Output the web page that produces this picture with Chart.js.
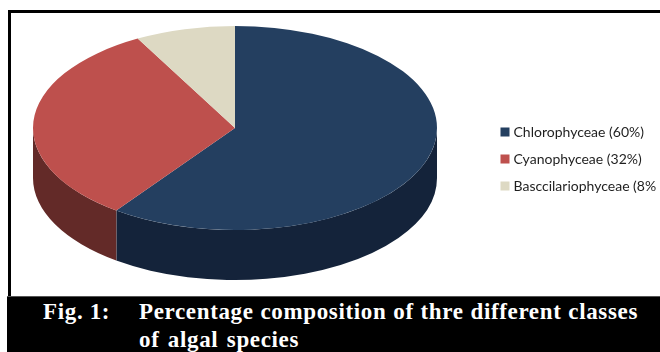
<!DOCTYPE html>
<html>
<head>
<meta charset="utf-8">
<script src="https://cdn.jsdelivr.net/npm/chart.js@4"></script>
<style>
  html, body { margin: 0; padding: 0; background: #fff; }
  #page { position: relative; width: 660px; height: 352px; overflow: hidden; }
  #frame { position: absolute; left: 8px; top: 10px; width: 660px; height: 290px; border: 3px solid #000; box-sizing: border-box; }
  canvas { position: absolute; left: 0; top: 0; }
  #caption { position: absolute; left: 7px; top: 296px; width: 653px; height: 56px; background: #000; color: #fff;
             border-top: 1px solid #555; box-sizing: border-box;
             font: bold 23px/28px "Liberation Serif", serif; letter-spacing: 0.65px; }
  #caption span { position: absolute; white-space: nowrap; }
  #fig { left: 36px; top: 1px; }
  #l1 { left: 132px; top: 1px; width: 499px; display: block; text-align: justify; text-align-last: justify; white-space: normal !important; }
  #l2 { left: 132px; top: 29px; word-spacing: 2px; }
</style>
</head>
<body>
<div id="page">
  <div id="frame"></div>
  <canvas id="chart" width="660" height="352"></canvas>
  <div id="caption">
    <span id="fig">Fig. 1:</span>
    <span id="l1">Percentage composition of thre different classes</span>
    <span id="l2">of algal species</span>
  </div>
</div>
<script>
const categories = ['Chlorophyceae (60%)', 'Cyanophyceae (32%)', 'Basccilariophyceae (8%'];
const shares = [60, 32, 8];
const topColors = ['#243F60', '#BE504D', '#DDD9C3'];
const wallColors = ['#14233A', '#632A28', '#8A8775'];

// Tilted disc: the arcs are squashed vertically and a wall is drawn under the near rim.
const TILT = 102 / 202;
const DEPTH = 50;

const tiltedPie = {
  id: 'tiltedPie',
  afterLayout(chart) {
    // The legend sits beside the disc, clear of the plot area.
    const lg = chart.legend;
    const w = lg.width, h = lg.height;
    lg.left = 503.5 - lg.options.labels.padding; lg.right = lg.left + w;
    lg.top = 112; lg.bottom = lg.top + h;
  },
  beforeDatasetsDraw(chart) {
    const { ctx } = chart;
    const arcs = chart.getDatasetMeta(0).data;
    const { x, y, outerRadius: r } = arcs[0];
    const ry = r * TILT;
    const rim = (a) => [x + r * Math.cos(a), y + ry * Math.sin(a)];

    arcs.forEach((arc, i) => {
      // Only the part of the rim facing the viewer (0..PI on canvas) is visible.
      const a0 = arc.startAngle, a1 = arc.endAngle;
      for (let k = -1; k <= 1; k++) {
        const s = Math.max(a0, k * 2 * Math.PI), e = Math.min(a1, k * 2 * Math.PI + Math.PI);
        if (e <= s) continue;
        ctx.beginPath();
        ctx.ellipse(x, y, r, ry, 0, s, e);
        ctx.ellipse(x, y + DEPTH, r, ry, 0, e, s, true);
        ctx.closePath();
        ctx.fillStyle = wallColors[i];
        ctx.fill();
        if (e < k * 2 * Math.PI + Math.PI) {
          const [px, py] = rim(e);
          ctx.beginPath();
          ctx.moveTo(px, py);
          ctx.lineTo(px, py + DEPTH);
          ctx.strokeStyle = 'rgba(190,190,200,0.55)';
          ctx.lineWidth = 0.7;
          ctx.stroke();
        }
      }
    });

    ctx.save();
    ctx.translate(x, y);
    ctx.scale(1, TILT);
    ctx.translate(-x, -y);
  },
  afterDatasetsDraw(chart) {
    chart.ctx.restore();
  }
};

new Chart(document.getElementById('chart'), {
  type: 'pie',
  plugins: [tiltedPie],
  data: {
    labels: categories,
    datasets: [{ data: shares, backgroundColor: topColors, borderWidth: 0, radius: 202 }]
  },
  options: {
    responsive: false,
    animation: false,
    layout: { padding: { left: 0, top: 0, right: 190, bottom: 96 } },
    plugins: {
      tooltip: { enabled: false },
      legend: {
        position: 'chartArea',
        align: 'start',
        labels: {
          usePointStyle: true,
          pointStyle: 'rect',
          boxWidth: 3,
          boxHeight: 9,
          padding: 13,
          color: '#1f1f1f',
          font: { family: 'Lato, "Open Sans", sans-serif', size: 14 }
        }
      }
    }
  }
});
</script>
</body>
</html>
